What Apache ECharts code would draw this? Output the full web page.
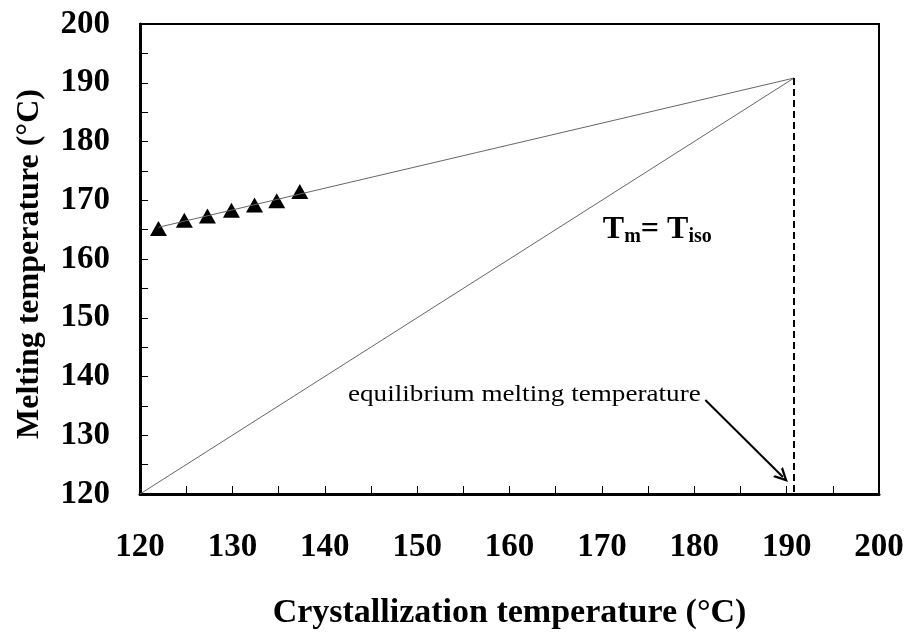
<!DOCTYPE html>
<html>
<head>
<meta charset="utf-8">
<script src="https://cdn.jsdelivr.net/npm/echarts@6/dist/echarts.min.js"></script>
<style>
  html, body { margin: 0; padding: 0; background: #fff; }
  #chart { width: 911px; height: 635px; }
</style>
</head>
<body>
<div id="chart"></div>
<script>
// Melting temperature vs. isothermal crystallization temperature (Hoffman–Weeks plot)
const crystTemps = [122.0, 124.8, 127.3, 129.9, 132.4, 134.8, 137.3];
const meltTemps  = [165.2, 166.6, 167.3, 168.3, 169.2, 169.9, 171.5];

// Equilibrium melting temperature (intersection of fit with Tm = Tc)
const equilibriumTm = 190.8;
// Linear extrapolation of the measured points
const fitLine = [[122.0, 165.4], [equilibriumTm, equilibriumTm]];
// Tm = Tc reference line
const diagonal = [[120, 120], [equilibriumTm, equilibriumTm]];
// Vertical drop to the Tc axis
const dropLine = [[equilibriumTm, equilibriumTm], [equilibriumTm, 120]];

// Annotation anchors (data coordinates)
const eqLabelText = 'equilibrium melting temperature';
const eqLabelAt = [180.7, 136.9];
const eqArrow = [[181.2, 136.0], [189.6, 122.9]];
const isoLabelAt = [170.1, 165.0];

const xTicks = { min: 120, max: 200, step: 10 };
const yTicks = { min: 120, max: 200, step: 10 };

const serif = '"Liberation Serif", "Times New Roman", serif';
// Open (chevron) arrow head, tip at the top
const openArrow = 'path://M0,0 L6,11 L3.8,11 L0,4 L-3.8,11 L-6,11 Z';

const chart = echarts.init(document.getElementById('chart'));

chart.setOption({
  backgroundColor: '#fff',
  animation: false,
  grid: {
    left: 140, right: 32, top: 24, bottom: 141,
    show: true, borderColor: '#000', borderWidth: 2, backgroundColor: 'transparent'
  },
  xAxis: {
    type: 'value', min: xTicks.min, max: xTicks.max, interval: xTicks.step,
    name: 'Crystallization temperature (°C)',
    nameLocation: 'middle', nameGap: 102,
    nameTextStyle: { fontFamily: serif, fontWeight: 'bold', fontSize: 34, color: '#000' },
    axisLine: { lineStyle: { color: '#000', width: 3 } },
    axisTick: { inside: true, length: 8, lineStyle: { color: '#000', width: 1 } },
    minorTick: { show: true, splitNumber: 2, length: 8, lineStyle: { color: '#000', width: 1 } },
    splitLine: { show: false },
    axisLabel: { margin: 37, fontFamily: serif, fontWeight: 'bold', fontSize: 33, color: '#000' }
  },
  yAxis: {
    type: 'value', min: yTicks.min, max: yTicks.max, interval: yTicks.step,
    name: 'Melting temperature (°C)',
    nameLocation: 'middle', nameGap: 94,
    nameTextStyle: { fontFamily: serif, fontWeight: 'bold', fontSize: 32, color: '#000', padding: [0, 10, 0, 0] },
    axisLine: { lineStyle: { color: '#000', width: 3 } },
    axisTick: { inside: true, length: 8, lineStyle: { color: '#000', width: 1 } },
    minorTick: { show: true, splitNumber: 2, length: 8, lineStyle: { color: '#000', width: 1 } },
    splitLine: { show: false },
    axisLabel: { margin: 30, padding: [8, 0, 0, 0], fontFamily: serif, fontWeight: 'bold', fontSize: 33, color: '#000' }
  },
  series: [
    {
      type: 'line', data: fitLine, symbol: 'none', silent: true,
      lineStyle: { color: '#666', width: 1 }
    },
    {
      type: 'line', data: diagonal, symbol: 'none', silent: true,
      lineStyle: { color: '#666', width: 1 }
    },
    {
      type: 'line', data: dropLine, symbol: 'none', silent: true,
      lineStyle: { color: '#000', width: 2, type: [7, 4] }
    },
    {
      type: 'scatter',
      data: crystTemps.map((x, i) => [x, meltTemps[i]]),
      symbol: 'triangle', symbolSize: [17, 15],
      itemStyle: { color: '#000', opacity: 1 }
    },
    {
      // arrow pointing at the equilibrium melting temperature
      type: 'scatter', data: [], silent: true,
      markLine: {
        silent: true, symbol: ['none', openArrow], symbolSize: [14, 14],
        label: { show: false },
        lineStyle: { color: '#000', width: 2, type: 'solid', opacity: 1 },
        itemStyle: { color: '#000', opacity: 1 },
        data: [[{ coord: eqArrow[0] }, { coord: eqArrow[1] }]]
      }
    },
    {
      // Tm = Tiso label
      type: 'scatter', data: [isoLabelAt], symbolSize: 0, silent: true,
      itemStyle: { opacity: 1 },
      label: {
        show: true, position: 'right', distance: 0,
        formatter: '{b|T}{s|m}{b|= T}{s|iso}',
        rich: {
          b: { fontFamily: serif, fontWeight: 'bold', fontSize: 32, color: '#000' },
          s: { fontFamily: serif, fontWeight: 'bold', fontSize: 20, color: '#000', padding: [14, 0, 0, 0] }
        }
      }
    }
  ]
});

// Text label of the arrow, placed from data coordinates
const eqPx = chart.convertToPixel({ gridIndex: 0 }, eqLabelAt);
chart.setOption({
  graphic: [{
    type: 'text', x: eqPx[0], y: eqPx[1], scaleX: 1.18, silent: true,
    style: {
      text: eqLabelText, fill: '#000',
      font: '23px ' + serif, align: 'right', verticalAlign: 'middle'
    }
  }]
});
</script>
</body>
</html>
